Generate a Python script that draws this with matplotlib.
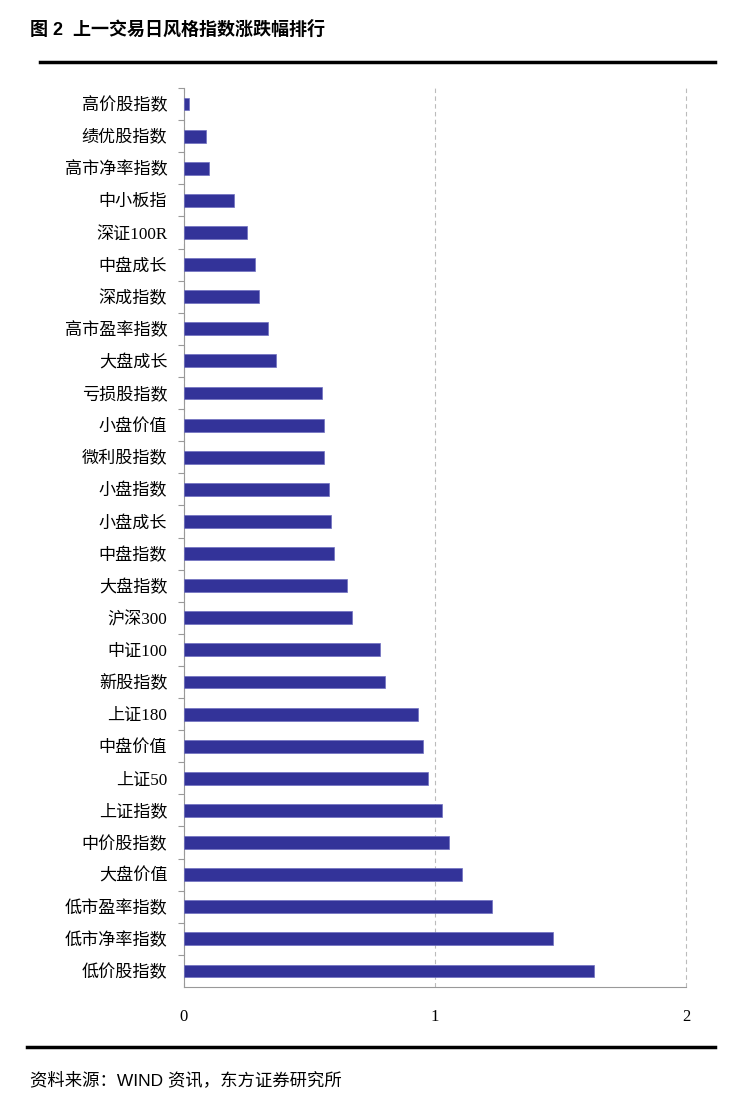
import matplotlib.pyplot as plt

plt.rcParams['font.family'] = ['Liberation Serif', 'Noto Sans CJK SC']

names = ['高价股指数', '绩优股指数', '高市净率指数', '中小板指', '深证100R', '中盘成长',
         '深成指数', '高市盈率指数', '大盘成长', '亏损股指数', '小盘价值', '微利股指数',
         '小盘指数', '小盘成长', '中盘指数', '大盘指数', '沪深300', '中证100', '新股指数',
         '上证180', '中盘价值', '上证50', '上证指数', '中价股指数', '大盘价值',
         '低市盈率指数', '低市净率指数', '低价股指数']
values = [0.02, 0.088, 0.10, 0.20, 0.25, 0.283, 0.30, 0.335, 0.367, 0.55, 0.558, 0.558,
          0.578, 0.586, 0.598, 0.649, 0.669, 0.781, 0.801, 0.932, 0.952, 0.972, 1.028,
          1.056, 1.108, 1.227, 1.470, 1.633]
xticks = [0, 1, 2]

fig = plt.figure(figsize=(7.45, 11.04), dpi=100)
ax = fig.add_axes([184 / 745, 1 - 987 / 1104, 502 / 745, 899 / 1104])

pos = list(range(len(names)))
ax.barh(pos, values, height=0.4, color='#333399', edgecolor='#6f6fc0', linewidth=0.5, zorder=3)
ax.set_ylim(len(names) - 0.5, -0.5)
ax.set_xlim(0, 2)
ax.set_yticks(pos)
ax.set_yticklabels(names, fontsize=12.3)
ax.set_yticks([p + 0.5 for p in pos[:-1]] + [-0.5], minor=True)
ax.tick_params(axis='y', which='major', length=0, pad=12)
ax.tick_params(axis='y', which='minor', length=4, color='#999999', width=0.8)
ax.set_xticks(xticks)
ax.set_xticklabels([str(t) for t in xticks], fontsize=12)
ax.tick_params(axis='x', length=0, pad=16)
ax.xaxis.grid(True, linestyle=(0, (4, 3)), color='#bbbbbb', linewidth=0.8, zorder=0)
for gl in ax.get_xgridlines():
    gl.set_clip_on(False)

for s in ['top', 'right']:
    ax.spines[s].set_visible(False)
for s in ['left', 'bottom']:
    ax.spines[s].set_color('#999999')
    ax.spines[s].set_linewidth(0.8)

fig.text(30 / 745, 1 - 30 / 1104, '图 2  上一交易日风格指数涨跌幅排行', fontsize=13,
         fontweight='bold', family=['Liberation Sans', 'Noto Sans CJK SC'], va='center')
fig.add_artist(plt.Line2D([40 / 745, 715 / 745], [1 - 62 / 1104, 1 - 62 / 1104],
                          color='black', linewidth=2.5))
fig.add_artist(plt.Line2D([27 / 745, 715 / 745], [1 - 1047 / 1104, 1 - 1047 / 1104],
                          color='black', linewidth=2.5))
fig.text(30 / 745, 1 - 1080 / 1104, '资料来源：WIND 资讯，东方证券研究所', fontsize=12.5,
         family=['Liberation Sans', 'Noto Sans CJK SC'], va='center')

fig.savefig('out.png', dpi=100)
